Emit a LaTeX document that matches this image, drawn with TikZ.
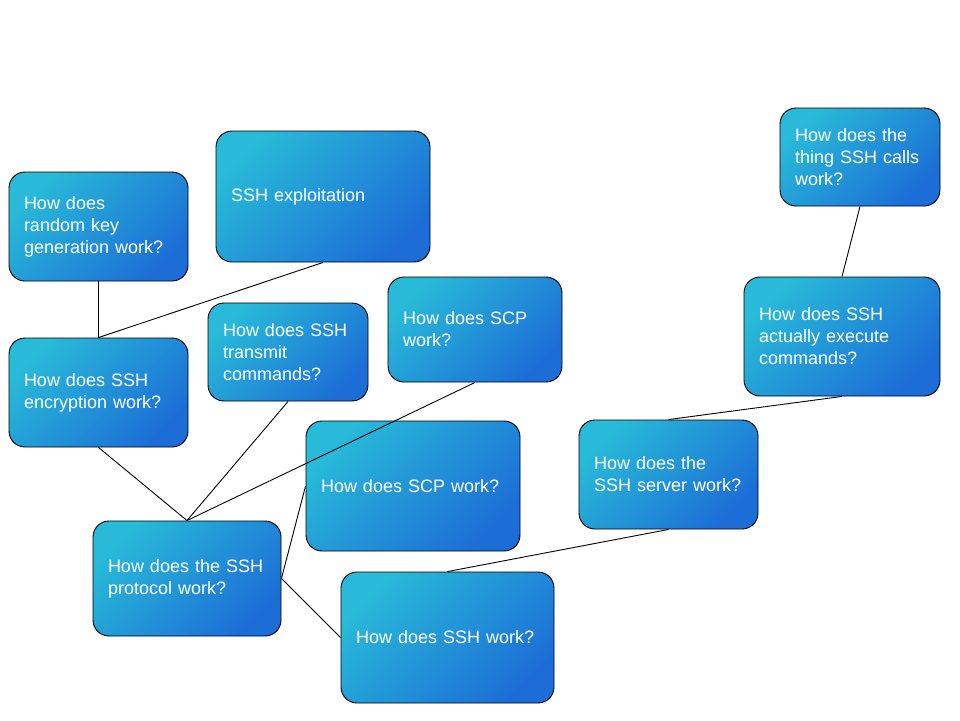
\documentclass[tikz,border=0pt]{standalone}
\usepackage{fontspec}
\setmainfont{Liberation Sans}
\definecolor{cA}{HTML}{28BAD8}
\definecolor{cB}{HTML}{1C6ED6}
\tikzset{
  qbox/.style={draw=black, line width=0.9pt, rounded corners=16pt,
    top color=cA, bottom color=cB, shading angle=45,
    text=white, align=left, inner xsep=15pt, inner ysep=0pt,
    font=\fontsize{18}{22}\selectfont, anchor=center},
  link/.style={draw=black, line width=0.9pt}
}
\begin{document}
\begin{tikzpicture}[x=1pt,y=-1pt]
\useasboundingbox (0,0) rectangle (960,720);
\node[qbox, text width=149pt, minimum height=109pt] (rk) at (98.5,226.5) {How does\\random key\\generation work?};
\node[qbox, text width=184pt, minimum height=131pt] (ex) at (323,196.5) {SSH exploitation};
\node[qbox, text width=149pt, minimum height=109pt] (enc) at (98.5,392.5) {How does SSH\\encryption work?};
\node[qbox, text width=130pt, minimum height=98pt] (tr) at (288,352) {How does SSH\\transmit\\commands?};
\node[qbox, text width=144pt, minimum height=105pt] (scpa) at (475,329.5) {How does SCP\\work?};
\node[qbox, text width=184pt, minimum height=130pt] (scpb) at (413,486) {How does SCP work?};
\node[qbox, text width=158pt, minimum height=115pt] (pr) at (187,578.5) {How does the SSH\\protocol work?};
\node[qbox, text width=183pt, minimum height=131pt] (ssh) at (447.5,637.5) {How does SSH work?};
\node[qbox, text width=149pt, minimum height=109pt] (srv) at (668.5,474.5) {How does the\\SSH server work?};
\node[qbox, text width=166pt, minimum height=119pt] (exe) at (842,336.5) {How does SSH\\actually execute\\commands?};
\node[qbox, text width=130pt, minimum height=98pt] (th) at (860,157) {How does the\\thing SSH calls\\work?};
\draw[link] (rk.south) -- (enc.north);
\draw[link] (ex.south) -- (enc.north);
\draw[link] (enc.south) -- (pr.north);
\draw[link] (tr.south) -- (pr.north);
\draw[link] (scpa.south) -- (pr.north);
\draw[link] (scpb.west) -- (pr.east);
\draw[link] (pr.east) -- (ssh.west);
\draw[link] (ssh.north) -- (srv.south);
\draw[link] (srv.north) -- (exe.south);
\draw[link] (exe.north) -- (th.south);
\end{tikzpicture}
\end{document}
